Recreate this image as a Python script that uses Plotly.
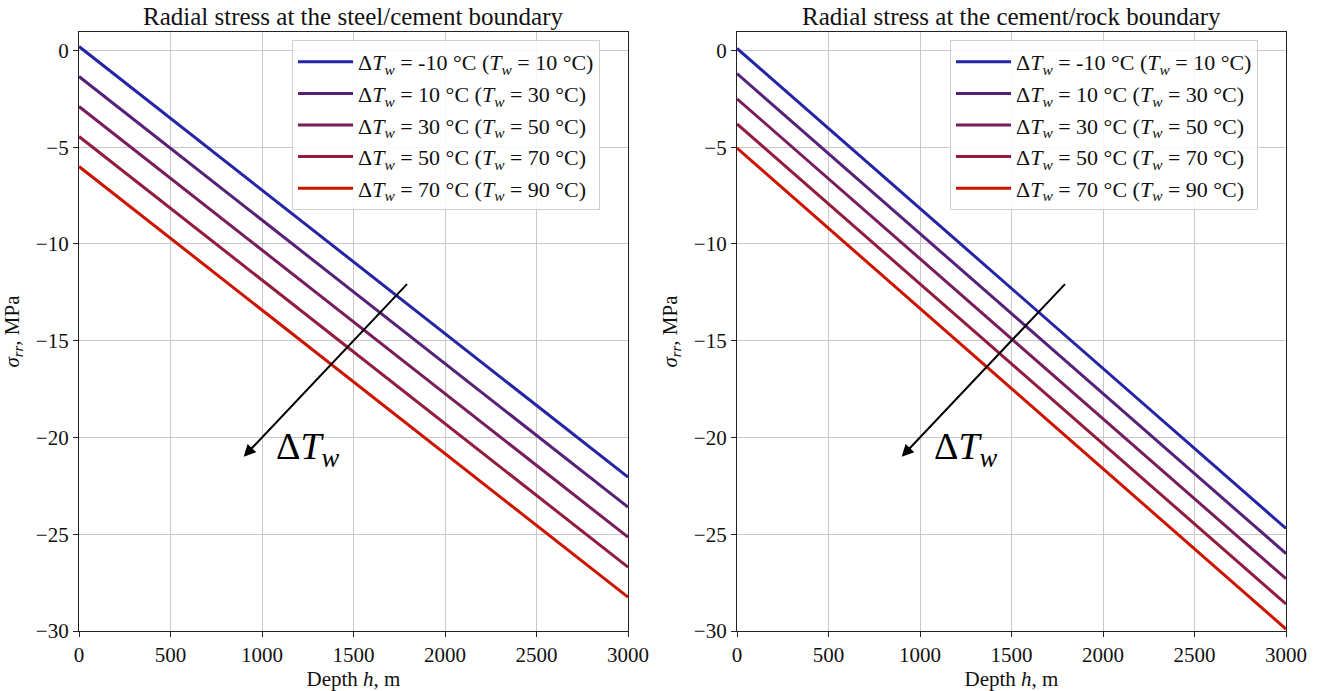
import plotly.graph_objects as go

depth = [0, 3000]
delta_tw = [-10, 10, 30, 50, 70]
tw = [10, 30, 50, 70, 90]
colors = ["#2424a6", "#572177", "#781c5c", "#921c3e", "#cc1400"]

# stress at steel/cement boundary (MPa) at depth 0 and 3000 m
steel_start = [0.2, -1.35, -2.9, -4.45, -6.0]
steel_end = [-22.05, -23.6, -25.15, -26.7, -28.25]
# stress at cement/rock boundary
rock_start = [0.1, -1.2, -2.5, -3.8, -5.05]
rock_end = [-24.7, -26.0, -27.3, -28.6, -29.9]

titles = ["Radial stress at the steel/cement boundary", "Radial stress at the cement/rock boundary"]

FONT = "Liberation Serif"
fig = go.Figure()

def label(d, t):
    return f"Δ<i>T<sub>w</sub></i> = {d} °C (<i>T<sub>w</sub></i> = {t} °C)"

for i in range(5):
    fig.add_trace(go.Scatter(x=depth, y=[steel_start[i], steel_end[i]], mode="lines",
                             line=dict(color=colors[i], width=3), name=label(delta_tw[i], tw[i]),
                             legendgroup=f"a{i}", xaxis="x", yaxis="y", legend="legend"))
for i in range(5):
    fig.add_trace(go.Scatter(x=depth, y=[rock_start[i], rock_end[i]], mode="lines",
                             line=dict(color=colors[i], width=3), name=label(delta_tw[i], tw[i]),
                             legendgroup=f"b{i}", xaxis="x2", yaxis="y2", legend="legend2"))

W, H = 1331, 691
yd = [1 - 631 / H, 1 - 32 / H]
xd1 = [79 / W, 628 / W]
xd2 = [737 / W, 1286 / W]

ax_common = dict(range=[0, 3000], dtick=500, showgrid=True, gridcolor="#c8c8c8", gridwidth=1,
                 showline=True, linecolor="#222", linewidth=1.2, mirror=True, ticks="outside",
                 ticklen=5, tickcolor="#222", zeroline=False, automargin=False,
                 tickfont=dict(family=FONT, size=21, color="#111"),
                 title=dict(text="Depth <i>h</i>, m", font=dict(family=FONT, size=21, color="#111"), standoff=2))
ay_common = dict(range=[-30, 0.95], dtick=5, showgrid=True, gridcolor="#c8c8c8", gridwidth=1,
                 showline=True, linecolor="#222", linewidth=1.2, mirror=True, ticks="outside",
                 ticklen=5, tickcolor="#222", zeroline=False, automargin=False,
                 tickfont=dict(family=FONT, size=21, color="#111"),
                 title=dict(text="<i>σ<sub>rr</sub></i>, MPa", font=dict(family=FONT, size=21, color="#111"), standoff=10))

leg_common = dict(bgcolor="rgba(255,255,255,0.85)", bordercolor="#d0d0d0", borderwidth=1,
                  font=dict(family=FONT, size=22, color="#111"), xanchor="left", yanchor="top",
                  tracegroupgap=0, itemwidth=55)

fig.update_layout(
    width=W, height=H, margin=dict(l=0, r=0, t=0, b=0),
    plot_bgcolor="white", paper_bgcolor="white",
    xaxis=dict(domain=xd1, anchor="y", **ax_common),
    yaxis=dict(domain=yd, anchor="x", **ay_common),
    xaxis2=dict(domain=xd2, anchor="y2", **ax_common),
    yaxis2=dict(domain=yd, anchor="x2", **ay_common),
    legend=dict(x=292 / W, y=1 - 40 / H, **leg_common),
    legend2=dict(x=950 / W, y=1 - 40 / H, **leg_common),
    showlegend=True,
)

for k, (xa, ya) in enumerate([("x", "y"), ("x2", "y2")]):
    fig.add_annotation(x=900, y=-21, ax=1800, ay=-12, xref=xa, yref=ya, axref=xa, ayref=ya,
                       showarrow=True, arrowhead=2, arrowsize=1.2, arrowwidth=2, arrowcolor="black", text="")
    fig.add_annotation(x=1250, y=-20.6, xref=xa, yref=ya, text="Δ<i>T<sub>w</sub></i>", showarrow=False,
                       font=dict(family=FONT, size=38, color="black"))
    dom = xd1 if k == 0 else xd2
    fig.add_annotation(x=(dom[0] + dom[1]) / 2, y=1 - 16 / H, xref="paper", yref="paper", text=titles[k],
                       showarrow=False, font=dict(family=FONT, size=25, color="#111"),
                       xanchor="center", yanchor="middle")

fig.write_html("out.html")
